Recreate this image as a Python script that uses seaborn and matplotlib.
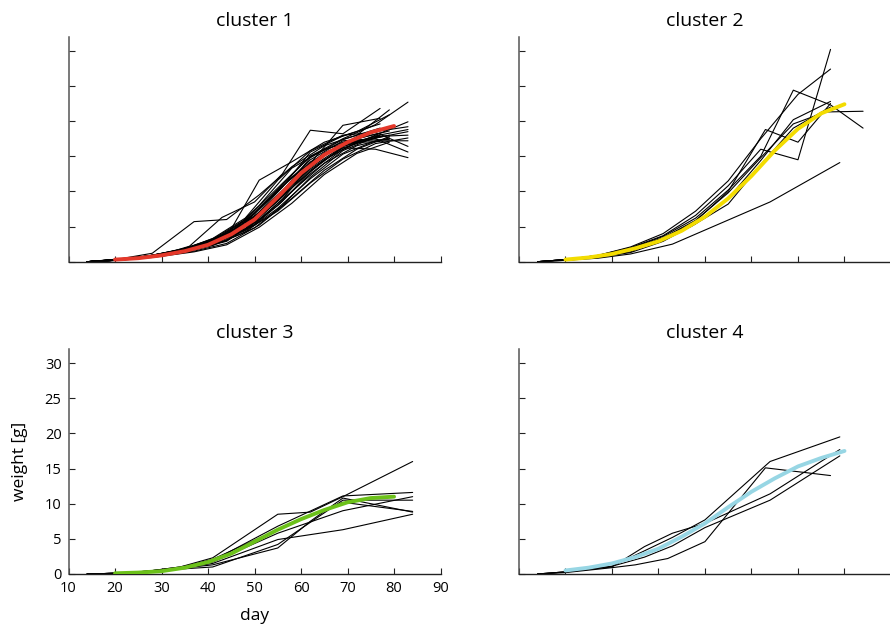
import matplotlib
matplotlib.use("Agg")
import matplotlib.pyplot as plt
import seaborn as sns
import pandas as pd

# ---------------- data ----------------
titles = ["cluster 1", "cluster 2", "cluster 3", "cluster 4"]
fit_colors = ["#e4382a", "#f3dc00", "#6cc11a", "#97d6e4"]

fit_days = [20, 25, 30, 35, 40, 45, 50, 55, 60, 65, 70, 75, 80]
fit_c1 = [0.3, 0.5, 0.9, 1.5, 2.4, 3.9, 6.0, 9.2, 12.6, 15.2, 17.0, 18.4, 19.3]
fit_c2 = [0.3, 0.6, 1.1, 1.9, 2.9, 4.4, 6.4, 9.0, 12.2, 15.8, 18.9, 21.1, 22.4]
fit_c3 = [0.1, 0.2, 0.4, 0.9, 1.7, 2.9, 4.6, 6.3, 7.8, 9.1, 10.2, 10.8, 11.0]
fit_c4 = [0.5, 0.9, 1.5, 2.4, 3.6, 5.3, 7.2, 9.5, 11.7, 13.6, 15.3, 16.5, 17.5]

d_a = [14, 20, 27, 34, 41, 48, 55, 62, 69, 76, 83]
d_b = [14, 21, 28, 37, 44, 51, 58, 65, 72, 79]
d_c = [15, 22, 30, 36, 43, 50, 56, 62, 69, 77]

c1_days = [d_a, d_a, d_a, d_a, d_a, d_a, d_b, d_b, d_b, d_b, d_b, d_c, d_c, d_c, d_c,
           d_a, d_a, d_b, d_c, d_b, d_a, d_c, d_a, d_b, d_c, d_a, d_b, d_c]
c1_weights = [
    [0, 0.3, 0.8, 1.7, 3.2, 6.0, 10.5, 15.0, 17.5, 19.5, 22.7],
    [0, 0.2, 0.6, 1.3, 2.5, 4.5, 8.0, 12.5, 16.0, 18.0, 19.9],
    [0, 0.3, 0.7, 1.5, 2.8, 5.2, 9.3, 13.8, 16.8, 18.5, 19.2],
    [0, 0.2, 0.6, 1.2, 2.3, 4.2, 7.6, 11.8, 15.3, 17.2, 17.2],
    [0, 0.3, 0.8, 1.6, 3.0, 5.6, 10.0, 14.5, 17.2, 17.5, 15.6],
    [0, 0.2, 0.7, 1.4, 2.7, 5.0, 9.0, 13.2, 16.2, 16.0, 14.8],
    [0, 0.4, 1.2, 5.7, 6.0, 9.5, 13.5, 16.5, 18.0, 21.6],
    [0, 0.3, 0.9, 2.2, 3.5, 11.6, 14.2, 17.0, 18.5, 20.9],
    [0, 0.3, 0.8, 1.8, 3.0, 6.5, 10.5, 14.5, 17.0, 18.0],
    [0, 0.2, 0.7, 1.5, 2.6, 5.2, 9.0, 13.0, 16.0, 17.8],
    [0, 0.3, 0.9, 2.0, 3.4, 7.5, 12.0, 15.5, 17.5, 18.6],
    [0, 0.4, 1.0, 2.2, 6.3, 8.5, 12.5, 18.7, 18.2, 21.8],
    [0, 0.3, 0.9, 1.8, 3.4, 5.6, 9.3, 14.0, 19.4, 20.4],
    [0, 0.3, 0.8, 1.6, 2.8, 4.8, 8.0, 12.0, 15.8, 18.0],
    [0, 0.3, 0.9, 1.9, 3.3, 6.0, 10.0, 14.8, 17.4, 19.0],
    [0, 0.2, 0.6, 1.3, 2.4, 4.7, 8.6, 13.0, 16.2, 17.6, 18.5],
    [0, 0.3, 0.8, 1.7, 3.1, 5.8, 10.2, 14.2, 16.6, 17.8, 18.0],
    [0, 0.3, 0.8, 1.7, 2.9, 6.0, 10.0, 14.0, 16.5, 17.6],
    [0, 0.3, 0.9, 2.0, 3.8, 6.8, 11.0, 15.0, 17.0, 18.3],
    [0, 0.3, 0.9, 1.9, 3.6, 8.0, 13.3, 16.0, 17.2, 17.4],
    [0, 0.3, 0.7, 1.5, 2.9, 5.4, 9.2, 13.4, 16.4, 17.9, 18.8],
    [0, 0.3, 0.8, 1.7, 3.0, 5.2, 8.6, 12.8, 16.4, 17.8],
    [0, 0.2, 0.7, 1.4, 2.6, 4.4, 7.2, 11.2, 14.6, 16.8, 17.6],
    [0, 0.3, 0.9, 2.1, 3.9, 7.0, 11.4, 15.2, 17.8, 19.2],
    [0, 0.3, 0.9, 2.0, 3.6, 6.4, 10.6, 15.6, 17.9, 19.6],
    [0, 0.3, 0.8, 1.6, 3.3, 6.2, 11.6, 15.8, 18.0, 18.4, 16.4],
    [0, 0.2, 0.6, 1.4, 2.4, 4.9, 8.3, 12.4, 15.4, 17.0],
    [0, 0.3, 0.8, 1.7, 3.1, 5.3, 8.9, 13.6, 16.9, 17.1],
]

c2_days = [
    [14, 20, 27, 34, 41, 48, 55, 62, 69, 77, 84],
    [14, 20, 27, 34, 41, 48, 55, 63, 70, 77],
    [14, 20, 27, 34, 41, 48, 55, 62, 70, 77],
    [14, 20, 27, 34, 41, 48, 55, 62, 70, 77],
    [14, 20, 27, 34, 41, 48, 55, 62, 69, 76, 84],
    [14, 20, 27, 34, 43, 64, 79],
    [14, 20, 27, 34, 41, 47, 55, 62, 69, 77],
    [14, 20, 27, 34, 41, 48, 55, 62, 69, 77],
]
c2_weights = [
    [0, 0.3, 0.8, 1.9, 3.6, 6.2, 10.2, 15.0, 24.4, 22.3, 19.0],
    [0, 0.3, 0.8, 1.8, 3.3, 5.8, 10.0, 18.8, 17.0, 22.5],
    [0, 0.3, 0.9, 2.0, 3.7, 6.6, 10.8, 16.0, 14.5, 30.2],
    [0, 0.3, 0.9, 2.1, 4.0, 7.2, 11.5, 17.5, 23.8, 27.4],
    [0, 0.3, 0.8, 1.8, 3.4, 5.9, 9.8, 14.8, 19.6, 21.3, 21.4],
    [0, 0.2, 0.5, 1.1, 2.5, 8.5, 14.1],
    [0, 0.3, 0.7, 1.4, 3.3, 5.0, 8.2, 13.8, 19.0, 22.0],
    [0, 0.2, 0.6, 1.3, 2.9, 5.4, 9.0, 14.4, 20.2, 22.8],
]

c3_days = [
    [14, 20, 27, 34, 41, 55, 62, 69, 84],
    [14, 20, 27, 34, 41, 55, 69, 84],
    [14, 20, 27, 34, 41, 55, 69, 84],
    [14, 20, 27, 34, 41, 55, 62, 69, 84],
    [14, 20, 27, 34, 41, 55, 69, 84],
    [14, 20, 27, 34, 41, 55, 69, 84],
    [14, 20, 27, 34, 41, 55, 69, 84],
]
c3_weights = [
    [0, 0.1, 0.4, 1.0, 2.3, 8.5, 8.8, 11.0, 16.0],
    [0, 0.1, 0.4, 1.0, 1.9, 6.8, 11.1, 11.6],
    [0, 0.1, 0.3, 0.8, 1.5, 4.9, 6.3, 8.5],
    [0, 0.1, 0.3, 0.8, 1.3, 3.7, 7.5, 10.8, 8.8],
    [0, 0.1, 0.3, 0.7, 1.0, 4.2, 10.5, 10.5],
    [0, 0.1, 0.4, 0.9, 1.7, 5.8, 9.0, 11.0],
    [0, 0.1, 0.4, 0.9, 2.1, 6.3, 10.2, 8.9],
]

c4_days = [
    [14, 20, 30, 37, 43, 50, 64, 79],
    [14, 20, 30, 35, 42, 50, 63, 77],
    [14, 20, 30, 37, 43, 50, 64, 79],
    [14, 20, 30, 37, 43, 50, 64, 79],
]
c4_weights = [
    [0, 0.3, 1.1, 3.3, 5.2, 7.7, 16.0, 19.5],
    [0, 0.2, 0.9, 1.3, 2.2, 4.6, 15.1, 14.0],
    [0, 0.3, 1.0, 3.9, 5.8, 7.2, 11.4, 17.7],
    [0, 0.3, 1.1, 2.4, 4.0, 6.6, 10.5, 16.8],
]

x_ticks = [10, 20, 30, 40, 50, 60, 70, 80, 90]
y_ticks = [0, 5, 10, 15, 20, 25, 30]

# ---------------- build tables ----------------
def animals_frame(days_list, weights_list):
    rows = []
    for i, (ds, ws) in enumerate(zip(days_list, weights_list)):
        for d, w in zip(ds, ws):
            rows.append({"animal": i, "day": d, "weight": w})
    return pd.DataFrame(rows)

clusters = [
    (animals_frame(c1_days, c1_weights), fit_c1),
    (animals_frame(c2_days, c2_weights), fit_c2),
    (animals_frame(c3_days, c3_weights), fit_c3),
    (animals_frame(c4_days, c4_weights), fit_c4),
]

# ---------------- draw ----------------
sns.set_style("ticks")
plt.rcParams["font.family"] = ["Open Sans", "DejaVu Sans"]
plt.rcParams["text.color"] = "black"
plt.rcParams["axes.labelcolor"] = "black"
plt.rcParams["xtick.color"] = "black"
plt.rcParams["ytick.color"] = "black"

fig = plt.figure(figsize=(8.9, 6.3), dpi=100)
lefts = [0.077, 0.5831, 0.077, 0.5831]
bottoms = [0.5846, 0.5846, 0.0889, 0.0889]
W, H = 0.418, 0.3571

for k, (df, fit) in enumerate(clusters):
    ax = fig.add_axes([lefts[k], bottoms[k], W, H])
    sns.lineplot(data=df, x="day", y="weight", units="animal", estimator=None,
                 color="black", lw=0.8, ax=ax, legend=False)
    fdf = pd.DataFrame({"day": fit_days, "weight": fit})
    sns.lineplot(data=fdf, x="day", y="weight", color=fit_colors[k], lw=2.8,
                 ax=ax, legend=False, zorder=5)
    ax.set_xlim(10, 90)
    ax.set_ylim(0, 32)
    ax.set_xticks(x_ticks)
    ax.set_yticks(y_ticks)
    for s in ["top", "right"]:
        ax.spines[s].set_visible(False)
    ax.spines["left"].set_color("#555555")
    ax.spines["bottom"].set_color("#222222")
    ax.spines["left"].set_linewidth(1.1)
    ax.spines["bottom"].set_linewidth(1.0)
    ax.tick_params(direction="in", length=4, width=0.8, colors="#222222",
                   labelcolor="black", labelsize=10.5, pad=5,
                   bottom=True, left=True)
    ax.set_title(titles[k], fontsize=14, pad=8, color="black")
    if k == 2:
        ax.set_xlabel("day", fontsize=12.5, labelpad=9)
        ax.set_ylabel("weight [g]", fontsize=12.5, labelpad=12)
    else:
        ax.set_xlabel("")
        ax.set_ylabel("")
        ax.tick_params(labelleft=False, labelbottom=False)

fig.savefig("out.png", dpi=100)
